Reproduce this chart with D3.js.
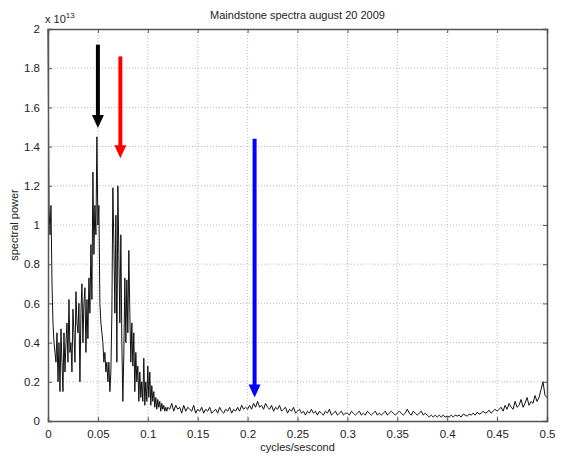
<!DOCTYPE html>
<html>
<head>
<meta charset="utf-8">
<script src="https://cdn.jsdelivr.net/npm/d3@7"></script>
<style>
  body { margin: 0; background: #fff; }
  svg text { font-family: "Liberation Sans", Arial, sans-serif; fill: #222; }
  .grid line { stroke: #bbb; stroke-dasharray: 1,2; }
  .axis path, .axis line { stroke: #555; }
</style>
</head>
<body>
<svg id="chart"></svg>
<script>
// spectral power in units of 1e13, fine grid 0 .. 0.12 cycles/s (step 0.001)
var powerLow = [
  2.0, 1.1, 0.95, 1.1, 0.7, 0.5, 0.4, 0.35, 0.3, 0.45,
  0.2, 0.4, 0.15, 0.47, 0.3, 0.15, 0.45, 0.25, 0.4, 0.5,
  0.3, 0.62, 0.35, 0.4, 0.25, 0.57, 0.45, 0.3, 0.66, 0.5,
  0.45, 0.6, 0.2, 0.55, 0.7, 0.4, 0.6, 0.68, 0.35, 0.62,
  0.42, 0.73, 0.55, 0.9, 0.62, 1.27, 0.85, 1.1, 0.95, 1.45,
  1.0, 1.1, 0.6, 0.5, 0.45, 0.4, 0.3, 0.35, 0.25, 0.3,
  0.2, 0.3, 0.15, 0.25, 0.55, 1.19, 0.9, 0.55, 1.05, 0.3,
  1.2, 0.85, 0.5, 0.95, 0.4, 0.1, 0.35, 0.73, 0.4, 0.72,
  0.45, 0.87, 0.55, 0.3, 0.5, 0.28, 0.45, 0.15, 0.35, 0.2,
  0.28, 0.1, 0.25, 0.12, 0.2, 0.1, 0.32, 0.08, 0.2, 0.1,
  0.28, 0.12, 0.25, 0.08, 0.18, 0.1, 0.15, 0.07, 0.12, 0.06,
  0.11, 0.07, 0.1, 0.05, 0.09, 0.06, 0.08, 0.05, 0.07, 0.05,
  0.07
];
// coarser grid 0.122 .. 0.5 cycles/s (step 0.002)
var powerHigh = [
  0.06, 0.09, 0.05, 0.08, 0.06, 0.07, 0.04, 0.08, 0.05, 0.07, 0.06, 0.05, 0.08, 0.04, 0.06,
  0.05, 0.07, 0.04, 0.06, 0.05, 0.07, 0.04, 0.05, 0.06, 0.04, 0.07, 0.05, 0.04, 0.06, 0.05, 0.07, 0.04, 0.06, 0.05, 0.07, 0.05, 0.08, 0.06, 0.07, 0.06,
  0.08, 0.06, 0.09, 0.07, 0.1, 0.07, 0.08, 0.06, 0.09, 0.07, 0.06, 0.08, 0.05, 0.07, 0.06, 0.08, 0.05, 0.06, 0.07, 0.04, 0.06, 0.05, 0.07, 0.04, 0.05,
  0.06, 0.04, 0.05, 0.03, 0.05, 0.04, 0.06, 0.04, 0.05, 0.03, 0.05, 0.04, 0.03, 0.05, 0.04, 0.06, 0.03, 0.04, 0.05, 0.03, 0.04, 0.05, 0.03, 0.04, 0.04,
  0.03, 0.05, 0.04, 0.03, 0.04, 0.05, 0.03, 0.04, 0.03, 0.05, 0.04, 0.03, 0.04, 0.05, 0.03, 0.04, 0.03, 0.04, 0.05, 0.03, 0.04, 0.05, 0.04, 0.03, 0.04,
  0.05, 0.04, 0.03, 0.04, 0.06, 0.04, 0.03, 0.05, 0.04, 0.03, 0.04, 0.05, 0.03, 0.04, 0.03, 0.02, 0.03, 0.02, 0.03, 0.02, 0.03, 0.02, 0.03, 0.02, 0.025,
  0.02, 0.03, 0.02, 0.03, 0.025, 0.03, 0.02, 0.035, 0.03, 0.025, 0.035, 0.03, 0.04, 0.03, 0.045, 0.035, 0.04, 0.05, 0.04, 0.045, 0.055, 0.04, 0.05, 0.06, 0.05,
  0.06, 0.07, 0.05, 0.08, 0.06, 0.09, 0.07, 0.06, 0.1, 0.07, 0.08, 0.11, 0.07, 0.09, 0.12, 0.08, 0.1, 0.09, 0.13, 0.1, 0.12, 0.16, 0.2, 0.13, 0.12
];
var xTicks = [0, 0.05, 0.1, 0.15, 0.2, 0.25, 0.3, 0.35, 0.4, 0.45, 0.5];
var yTicks = [0, 0.2, 0.4, 0.6, 0.8, 1, 1.2, 1.4, 1.6, 1.8, 2];
// annotation arrows: frequency, start power, tip power
var arrows = [
  { f: 0.050, from: 1.92, to: 1.495, color: "#000" },
  { f: 0.0725, from: 1.86, to: 1.34, color: "#f00" },
  { f: 0.207, from: 1.44, to: 0.12, color: "#00f" }
];

var margin = { top: 29, right: 16, bottom: 35, left: 48 },
  width = 563 - margin.left - margin.right,
  height = 456 - margin.top - margin.bottom;

var data = powerLow.map(function(p, i) { return { f: i * 0.001, p: p }; })
  .concat(powerHigh.map(function(p, i) { return { f: 0.122 + i * 0.002, p: p }; }));

var x = d3.scaleLinear().domain([0, 0.5]).range([0, width]);
var y = d3.scaleLinear().domain([0, 2]).range([height, 0]);

var svg = d3.select("#chart")
    .attr("width", 563)
    .attr("height", 456)
  .append("g")
    .attr("transform", "translate(" + margin.left + "," + margin.top + ")");

// grid
svg.append("g").attr("class", "grid")
  .selectAll("line.v").data(xTicks.slice(1, -1))
  .enter().append("line")
    .attr("x1", function(d) { return x(d); }).attr("x2", function(d) { return x(d); })
    .attr("y1", 0).attr("y2", height);
svg.append("g").attr("class", "grid")
  .selectAll("line.h").data(yTicks.slice(1, -1))
  .enter().append("line")
    .attr("x1", 0).attr("x2", width)
    .attr("y1", function(d) { return y(d); }).attr("y2", function(d) { return y(d); });

// spectrum
var line = d3.line()
  .x(function(d) { return x(d.f); })
  .y(function(d) { return y(d.p); });
svg.append("path")
  .datum(data)
  .attr("d", line)
  .attr("fill", "none")
  .attr("stroke", "#111")
  .attr("stroke-width", 1);

// axes, ticks inside (matlab style)
var fmt = function(d) { return String(+d.toFixed(2)); };
svg.append("g").attr("class", "axis")
  .attr("transform", "translate(0," + height + ")")
  .call(d3.axisBottom(x).tickValues(xTicks).tickSize(-4).tickPadding(9).tickFormat(fmt));
svg.append("g").attr("class", "axis")
  .call(d3.axisLeft(y).tickValues(yTicks).tickSize(-4).tickPadding(8).tickFormat(fmt));
svg.append("g").attr("class", "axis")
  .call(d3.axisTop(x).tickValues(xTicks).tickSize(-4).tickFormat(""));
svg.append("g").attr("class", "axis")
  .attr("transform", "translate(" + width + ",0)")
  .call(d3.axisRight(y).tickValues(yTicks).tickSize(-4).tickFormat(""));
svg.selectAll(".axis text").style("font-size", "11.5px");
svg.selectAll(".axis .domain").attr("stroke-width", 1.5);

// arrows
var ag = svg.append("g").selectAll("g").data(arrows).enter().append("g");
ag.append("line")
  .attr("x1", function(d) { return x(d.f); }).attr("x2", function(d) { return x(d.f); })
  .attr("y1", function(d) { return y(d.from); })
  .attr("y2", function(d) { return y(d.to) - 10; })
  .attr("stroke", function(d) { return d.color; })
  .attr("stroke-width", 4);
ag.append("path")
  .attr("d", function(d) {
    var cx = x(d.f), ty = y(d.to);
    return "M" + (cx - 6) + "," + (ty - 13) + "L" + (cx + 6) + "," + (ty - 13) + "L" + cx + "," + ty + "Z";
  })
  .attr("fill", function(d) { return d.color; });

// labels
svg.append("text")
  .attr("x", width / 2).attr("y", -10)
  .attr("text-anchor", "middle")
  .style("font-size", "11px")
  .text("Maindstone spectra august 20 2009");
svg.append("text")
  .attr("x", width / 2).attr("y", height + 30)
  .attr("text-anchor", "middle")
  .style("font-size", "11px")
  .text("cycles/sescond");
svg.append("text")
  .attr("transform", "translate(-30," + (height / 2) + ") rotate(-90)")
  .attr("text-anchor", "middle")
  .style("font-size", "11px")
  .text("spectral power");
var exp = svg.append("text")
  .attr("x", -3).attr("y", -6)
  .style("font-size", "11px");
exp.append("tspan").text("x 10");
exp.append("tspan").attr("dy", -5).style("font-size", "8px").text("13");
</script>
</body>
</html>
